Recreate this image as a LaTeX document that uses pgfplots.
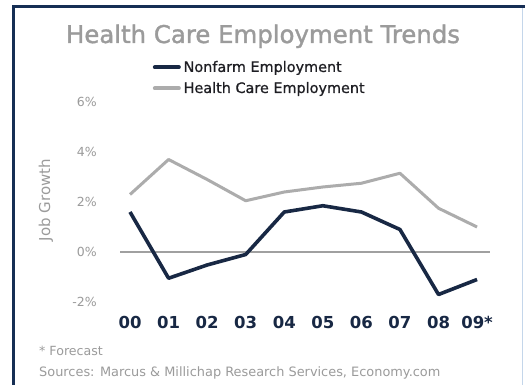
\documentclass[border=0pt]{standalone}
\usepackage{fontspec}
\setmainfont{DejaVu Sans}
\newfontfamily\titlefont[FakeBold=1.4]{DejaVu Sans}
\newfontfamily\legfont[FakeBold=0.8]{DejaVu Sans}
\usepackage{pgfplots}
\pgfplotsset{compat=1.18}
\definecolor{navy}{RGB}{24,40,68}
\definecolor{hcgray}{RGB}{172,172,172}
\definecolor{framenavy}{RGB}{22,46,84}
\definecolor{lblgray}{RGB}{155,155,155}
\definecolor{zerogray}{RGB}{160,160,160}
\definecolor{legtext}{RGB}{30,30,35}
\begin{document}
\begin{tikzpicture}[x=1pt,y=1pt]
\path[use as bounding box, fill=white] (0,0) rectangle (525,385);
\draw[framenavy, line width=3pt] (13.5,0) -- (13.5,378.5) -- (525,378.5);
\draw[color={rgb,255:red,196;green,214;blue,234}, line width=1.2pt] (522.5,0) -- (522.5,377);
\node[anchor=base, text=lblgray, font=\titlefont\fontsize{24.4}{28}\selectfont, inner sep=0pt] at (263,342) {Health Care Employment Trends};
\node[rotate=90, text=lblgray, font=\fontsize{15}{18}\selectfont] at (46,185) {Job Growth};
\node[anchor=base west, inner sep=0pt, text=lblgray, font=\fontsize{12.6}{15}\selectfont] at (39,29) {* Forecast};
\node[anchor=base west, inner sep=0pt, text=lblgray, font=\fontsize{12.9}{15}\selectfont] at (39,8) {Sources: Marcus \& Millichap Research Services, Economy.com};
\begin{axis}[
  at={(120pt,73pt)}, anchor=south west,
  x=38.56pt, y=25pt,
  xmin=-0.26, xmax=9.34, ymin=-2.4, ymax=6.4,
  axis line style={draw=none}, tick style={draw=none},
  xtick={0,...,9}, xticklabels={00,01,02,03,04,05,06,07,08,09*},
  ytick={-2,0,2,4,6}, yticklabels={-2\%,0\%,2\%,4\%,6\%},
  xticklabel style={anchor=north, inner sep=0pt, yshift=-4.5pt, text=navy, font=\fontsize{16.5}{18}\selectfont\bfseries},
  yticklabel style={anchor=east, inner sep=0pt, xshift=-23pt, text=lblgray, font=\fontsize{12.5}{14}\selectfont},
  /pgf/number format/assume math mode=true,
  clip=false,
  legend cell align=left,
  legend style={at={(axis cs:0.545,7.68)}, anchor=north west, draw=none, fill=none,
    inner sep=0pt, outer sep=0pt, nodes={inner sep=1pt, text=legtext},
    font=\legfont\fontsize{14.4}{17}\selectfont, row sep=6.6pt,
    /tikz/every even column/.append style={column sep=1pt}},
  legend image code/.code={\draw[#1, line width=4pt, line cap=round] (2pt,0pt) -- (26pt,0pt); \path (0pt,0pt) (28pt,0pt);},
]
\addplot[zerogray, line width=1.5pt, forget plot] coordinates {(-0.26,0) (9.34,0)};
\addplot[navy, line width=3.6pt, line join=round] coordinates {
(0,1.6) (1,-1.05) (2,-0.52) (3,-0.1) (4,1.6) (5,1.85) (6,1.6) (7,0.9) (8,-1.7) (9,-1.1)};
\addlegendentry{Nonfarm Employment}
\addplot[hcgray, line width=3pt, line join=round] coordinates {
(0,2.3) (1,3.7) (2,2.9) (3,2.05) (4,2.4) (5,2.6) (6,2.75) (7,3.15) (8,1.75) (9,1.0)};
\addlegendentry{Health Care Employment}
\end{axis}
\end{tikzpicture}
\end{document}
